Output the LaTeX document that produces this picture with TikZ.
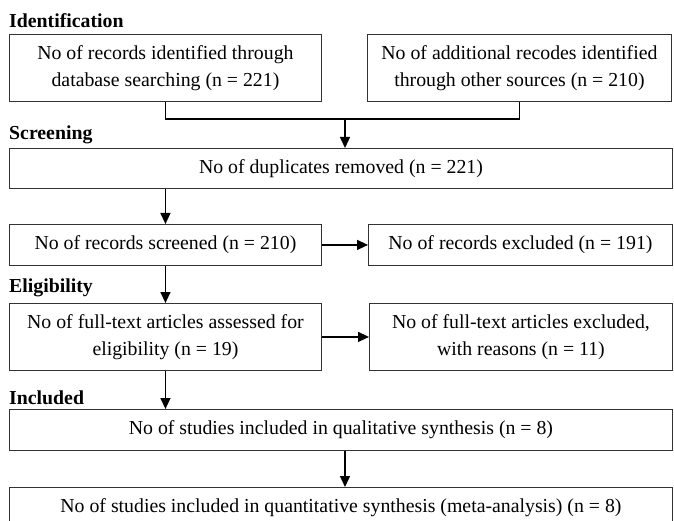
\documentclass[tikz,border=0pt]{standalone}
\usepackage{fontspec}
\setmainfont{Liberation Serif}
\usetikzlibrary{positioning, arrows.meta}

\begin{document}
\begin{tikzpicture}[
        x=1pt, y=-1pt,
        every node/.style={font=\fontsize{19.8}{27}\selectfont},
        box/.style={draw=black!80, line width=0.9pt, align=center, inner sep=0pt, anchor=north west},
        phase/.style={font=\fontsize{19.8}{24}\selectfont\bfseries, inner sep=0pt, anchor=west},
        line/.style={line width=1.4pt},
        link/.style={-{Triangle[length=11pt, width=10pt]}, line width=1.4pt}
    ]
    \useasboundingbox (0,0) rectangle (674,521);
    \clip (0,0) rectangle (674,521);

    % Identification
    \node[phase] (identlbl) at (9,21) {Identification};
    \node[box, minimum width=312pt, minimum height=67pt] (recdb) at (9,34) {No of records identified through\\database searching (n = 221)};
    \node[box, minimum width=304pt, minimum height=67pt] (recother) at (367,34) {No of additional recodes identified\\through other sources (n = 210)};
    \coordinate (merge) at (345,119);
    \draw[line] (recdb.south) |- (merge) -| (recother.south);

    % Screening
    \node[phase] (screenlbl) at (9,135) {Screening};
    \node[box, minimum width=663pt, minimum height=40pt] (dup) at (9,148) {No of duplicates removed (n = 221)};
    \draw[link] (merge) -- (merge |- dup.north);

    \node[box, minimum width=312pt, minimum height=41pt] (screened) at (9,224) {No of records screened (n = 210)};
    \node[box, minimum width=304pt, minimum height=41pt] (excl) at (368,224) {No of records excluded (n = 191)};
    \draw[link] (screened.north |- dup.south) -- (screened.north);
    \draw[link] (screened.east) -- (excl.west);

    % Eligibility
    \node[phase] (eliglbl) at (9,288) {Eligibility};
    \node[box, minimum width=312pt, minimum height=67pt] (fulltext) at (9,303) {No of full-text articles assessed for\\eligibility (n = 19)};
    \node[box, minimum width=303pt, minimum height=67pt] (ftexcl) at (369,303) {No of full-text articles excluded,\\with reasons (n = 11)};
    \draw[link] (screened.south) -- (fulltext.north);
    \draw[link] (fulltext.east) -- (ftexcl.west);

    % Included
    \node[phase] (incllbl) at (9,398) {Included};
    \node[box, minimum width=663pt, minimum height=41pt] (qual) at (9,409) {No of studies included in qualitative synthesis (n = 8)};
    \node[box, minimum width=663pt, minimum height=41pt] (quant) at (9,487) {No of studies included in quantitative synthesis (meta-analysis) (n = 8)};
    \draw[link] (fulltext.south) -- (fulltext.south |- qual.north);
    \draw[link] (qual.south -| merge) -- (quant.north -| merge);

\end{tikzpicture}
\end{document}
